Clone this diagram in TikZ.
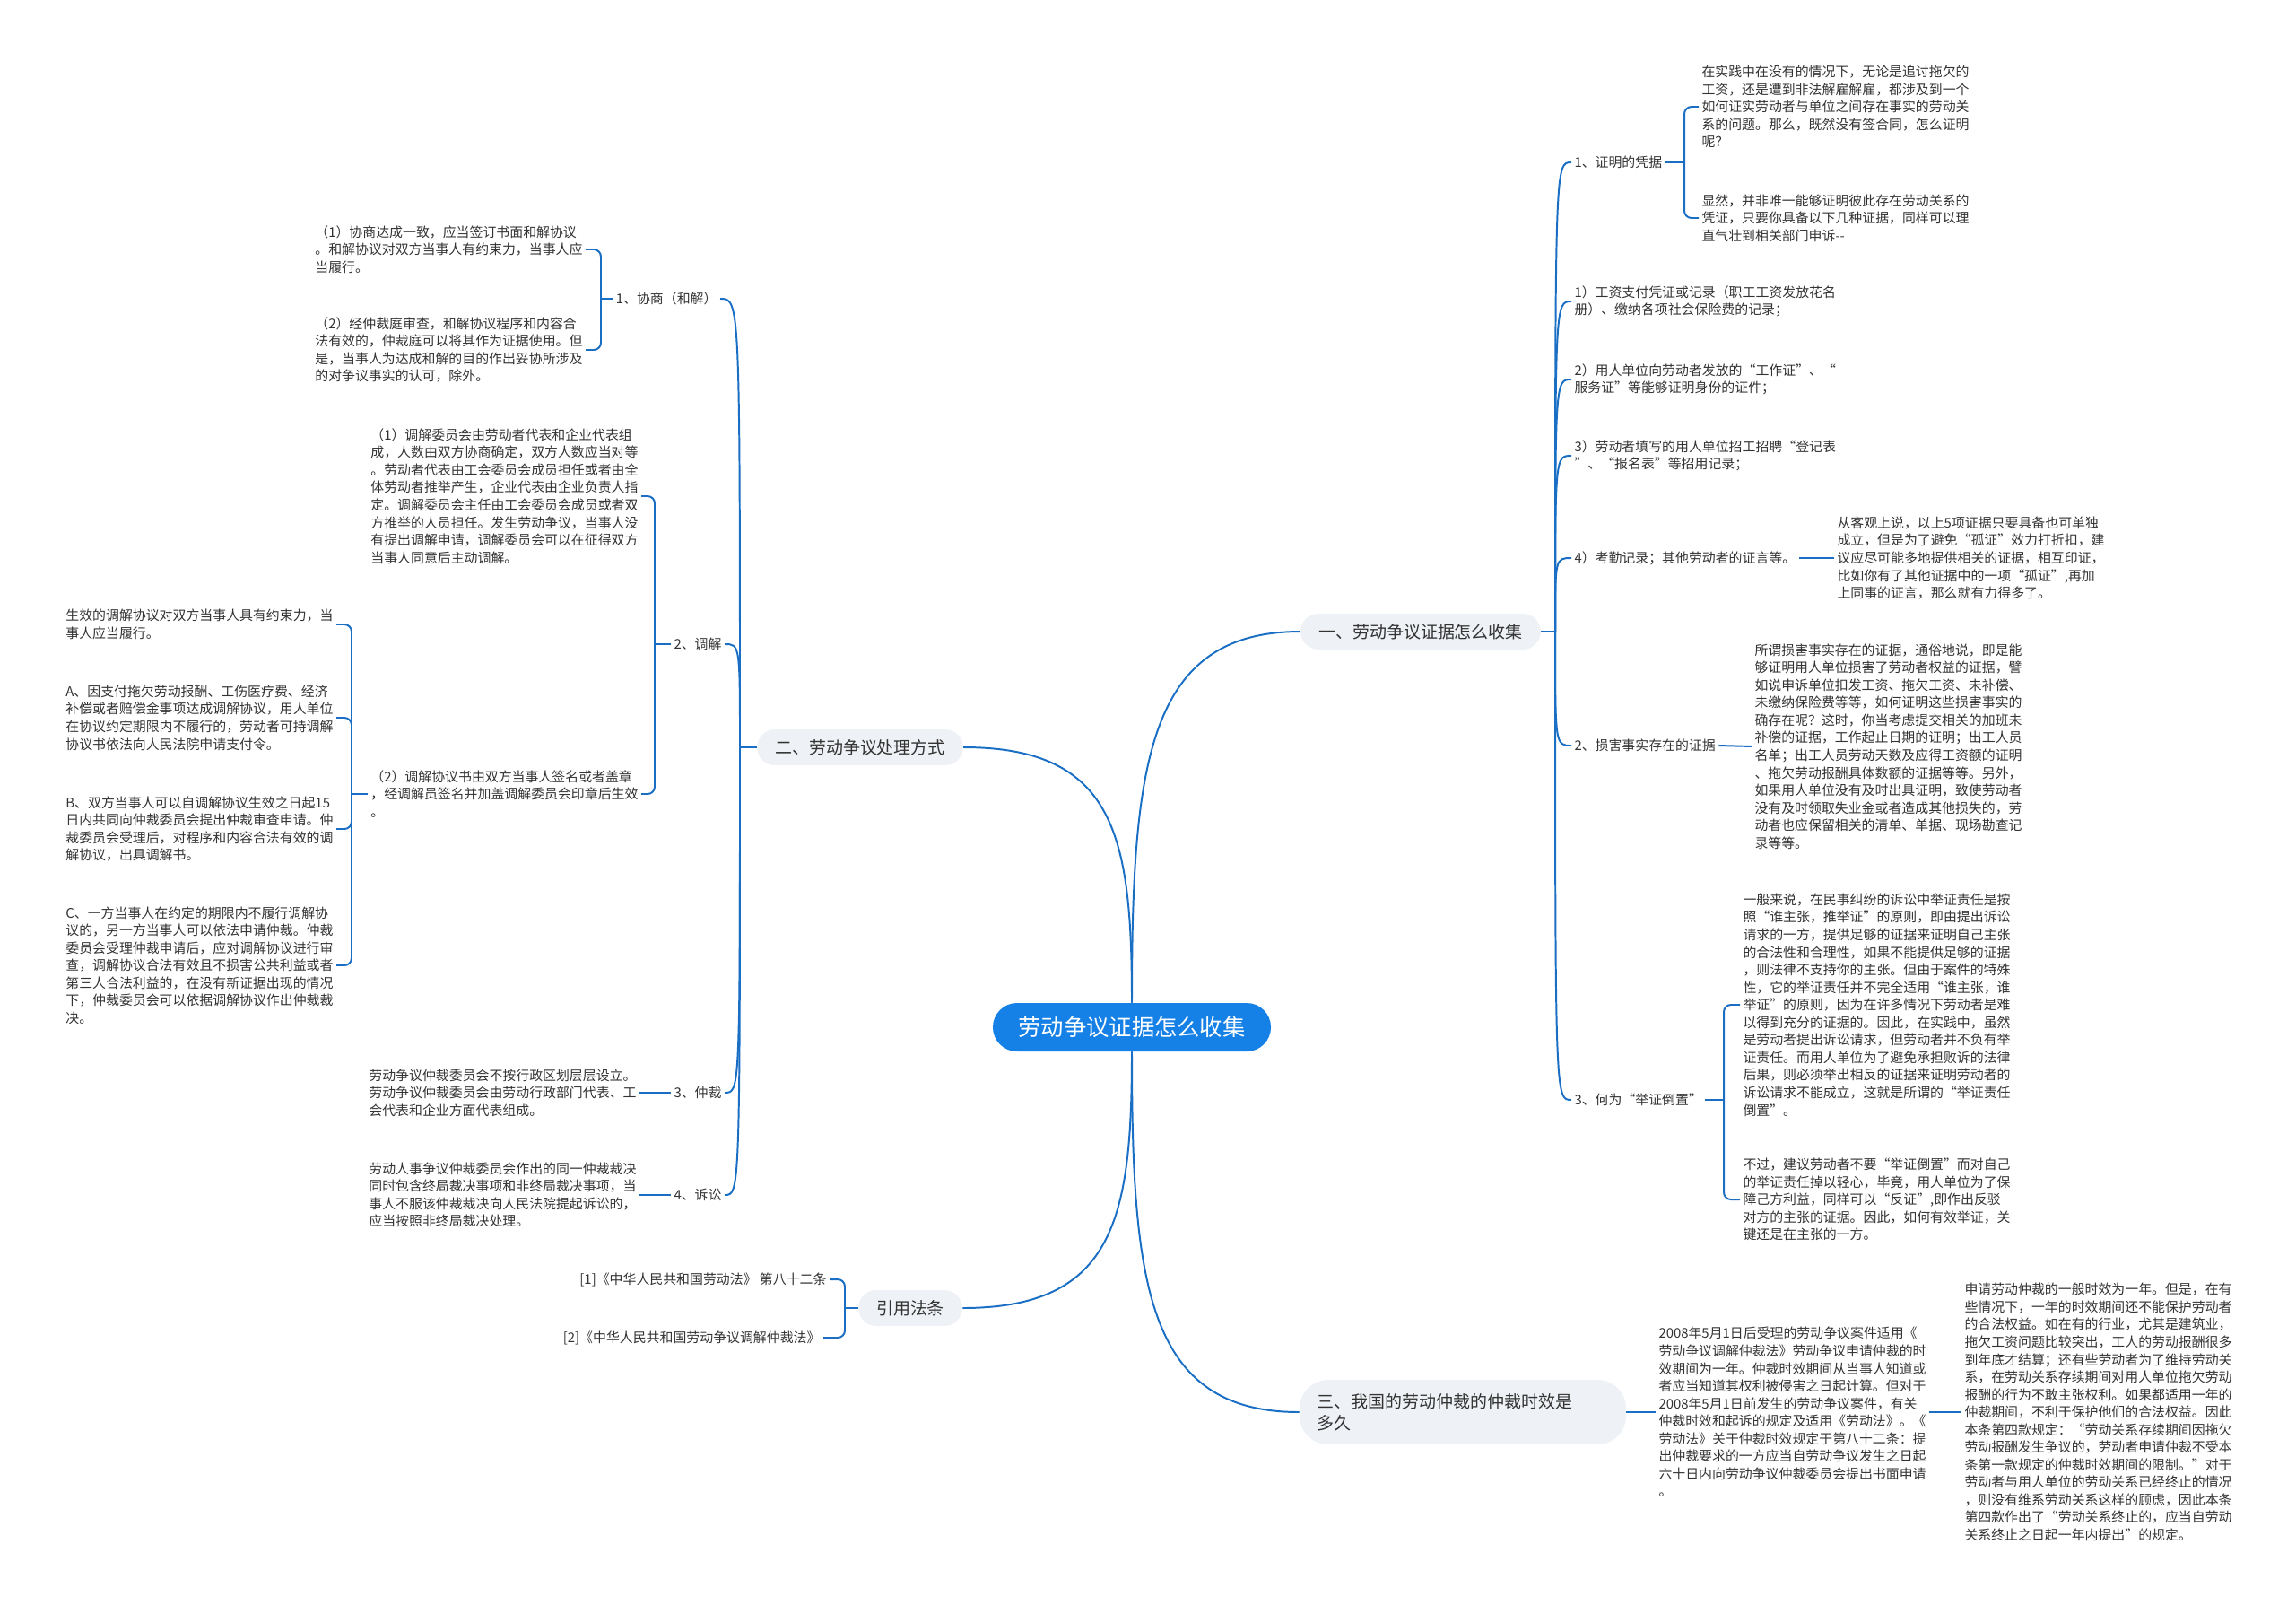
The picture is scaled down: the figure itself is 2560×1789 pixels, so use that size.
\documentclass[tikz,border=0pt]{standalone}
\usepackage{fontspec}
\setmainfont{Noto Sans CJK SC}
\usetikzlibrary{positioning, calc}
\definecolor{mmBlue}{HTML}{1A6FC4}
\definecolor{mmRoot}{HTML}{1580E6}
\definecolor{mmPill}{HTML}{EEF1F5}
\definecolor{mmInk}{HTML}{333333}
\newcommand{\tx}{\fontsize{10.6}{13.9}\selectfont}

\begin{document}
\begin{tikzpicture}[x=0.025cm, y=-0.025cm,
  root/.style={fill=mmRoot, text=white, rounded corners=0.675cm, minimum width=7.75cm, minimum height=1.35cm, font=\fontsize{18}{22}\selectfont},
  pill/.style={fill=mmPill, text=mmInk, rounded corners=0.5cm, minimum height=1cm, inner xsep=0.5cm, font=\fontsize{13.5}{17}\selectfont},
  txt/.style={text=mmInk, inner sep=0.08cm, align=left, font=\tx},
  link/.style={draw=mmBlue, line width=1.4pt},
  brk/.style={link, rounded corners=0.2cm}]
\useasboundingbox (0,0) rectangle (2560,1789);
\node[root] (root) at (1262,1145) {劳动争议证据怎么收集};
\node[pill] (b1) at (1584,704) {一、劳动争议证据怎么收集};
\node[pill] (b2) at (959,833) {二、劳动争议处理方式};
\node[pill] (b3) at (1015,1458) {引用法条};
\node[pill, minimum height=1.8cm, text width=8.1cm, align=left, rounded corners=0.8cm] (b4) at (1631,1574) {三、我国的劳动仲裁的仲裁时效是\\多久};
\draw[link] (root.north) .. controls +(0,-268) and +(-170,0) .. (b1.west);
\draw[link] (root.north) .. controls +(0,-185) and +(170,0) .. (b2.east);
\draw[link] (root.south) .. controls +(0,185) and +(170,0) .. (b3.east);
\draw[link] (root.south) .. controls +(0,260) and +(-170,0) .. (b4.west);
% right branch
\node[txt, anchor=west] (r1) at (1752,181) {1、证明的凭据};
\node[txt, anchor=west] (r1a) at (1894,119) {在实践中在没有的情况下，无论是追讨拖欠的\\工资，还是遭到非法解雇解雇，都涉及到一个\\如何证实劳动者与单位之间存在事实的劳动关\\系的问题。那么，既然没有签合同，怎么证明\\呢？};
\node[txt, anchor=west] (r1b) at (1894,243) {显然，并非唯一能够证明彼此存在劳动关系的\\凭证，只要你具备以下几种证据，同样可以理\\直气壮到相关部门申诉-\kern0pt-};
\node[txt, anchor=west] (r2) at (1752,336) {1）工资支付凭证或记录（职工工资发放花名\\册）、缴纳各项社会保险费的记录；};
\node[txt, anchor=west] (r3) at (1752,423) {2）用人单位向劳动者发放的“工作证”、“\\服务证”等能够证明身份的证件；};
\node[txt, anchor=west] (r4) at (1752,508) {3）劳动者填写的用人单位招工招聘“登记表\\”、“报名表”等招用记录；};
\node[txt, anchor=west] (r5) at (1752,622) {4）考勤记录；其他劳动者的证言等。};
\node[txt, anchor=west] (r5a) at (2045,622) {从客观上说，以上5项证据只要具备也可单独\\成立，但是为了避免“孤证”效力打折扣，建\\议应尽可能多地提供相关的证据，相互印证，\\比如你有了其他证据中的一项“孤证”,再加\\上同事的证言，那么就有力得多了。};
\node[txt, anchor=west] (r6) at (1752,831) {2、损害事实存在的证据};
\node[txt, anchor=west] (r6a) at (1953,832) {所谓损害事实存在的证据，通俗地说，即是能\\够证明用人单位损害了劳动者权益的证据，譬\\如说申诉单位扣发工资、拖欠工资、未补偿、\\未缴纳保险费等等，如何证明这些损害事实的\\确存在呢？这时，你当考虑提交相关的加班未\\补偿的证据，工作起止日期的证明；出工人员\\名单；出工人员劳动天数及应得工资额的证明\\、拖欠劳动报酬具体数额的证据等等。另外，\\如果用人单位没有及时出具证明，致使劳动者\\没有及时领取失业金或者造成其他损失的，劳\\动者也应保留相关的清单、单据、现场勘查记\\录等等。};
\node[txt, anchor=west] (r7) at (1752,1226) {3、何为“举证倒置”};
\node[txt, anchor=west] (r7a) at (1940,1120) {一般来说，在民事纠纷的诉讼中举证责任是按\\照“谁主张，推举证”的原则，即由提出诉讼\\请求的一方，提供足够的证据来证明自己主张\\的合法性和合理性，如果不能提供足够的证据\\，则法律不支持你的主张。但由于案件的特殊\\性，它的举证责任并不完全适用“谁主张，谁\\举证”的原则，因为在许多情况下劳动者是难\\以得到充分的证据的。因此，在实践中，虽然\\是劳动者提出诉讼请求，但劳动者并不负有举\\证责任。而用人单位为了避免承担败诉的法律\\后果，则必须举出相反的证据来证明劳动者的\\诉讼请求不能成立，这就是所谓的“举证责任\\倒置”。};
\node[txt, anchor=west] (r7b) at (1940,1337) {不过，建议劳动者不要“举证倒置”而对自己\\的举证责任掉以轻心，毕竟，用人单位为了保\\障己方利益，同样可以“反证”,即作出反驳\\对方的主张的证据。因此，如何有效举证，关\\键还是在主张的一方。};
\coordinate (j1) at (1734,704);
\draw[link] (b1.east) -- (j1);
\foreach \n in {r1,r2,r3,r4,r5,r6,r7}{\draw[link] (j1) .. controls (j1|-\n.west) .. (\n.west);}
\coordinate (k1) at (1878,181);
\draw[link] (r1.east) -- (k1);
\foreach \n in {r1a,r1b}{\draw[brk] (k1) |- (\n.west);}
\draw[link] (r5.east) -- (r5a.west);
\draw[link] (r6.east) -- (r6a.west);
\coordinate (k7) at (1922,1226);
\draw[link] (r7.east) -- (k7);
\foreach \n in {r7a,r7b}{\draw[brk] (k7) |- (\n.west);}
% left branch
\node[txt, anchor=east] (l1) at (803,333) {1、协商（和解）};
\node[txt, anchor=east] (l1a) at (653,278) {（1）协商达成一致，应当签订书面和解协议\\。和解协议对双方当事人有约束力，当事人应\\当履行。};
\node[txt, anchor=east] (l1b) at (653,390) {（2）经仲裁庭审查，和解协议程序和内容合\\法有效的，仲裁庭可以将其作为证据使用。但\\是，当事人为达成和解的目的作出妥协所涉及\\的对争议事实的认可，除外。};
\node[txt, anchor=east] (l2) at (808,718) {2、调解};
\node[txt, anchor=east] (l2a) at (715,553) {（1）调解委员会由劳动者代表和企业代表组\\成，人数由双方协商确定，双方人数应当对等\\。劳动者代表由工会委员会成员担任或者由全\\体劳动者推举产生，企业代表由企业负责人指\\定。调解委员会主任由工会委员会成员或者双\\方推举的人员担任。发生劳动争议，当事人没\\有提出调解申请，调解委员会可以在征得双方\\当事人同意后主动调解。};
\node[txt, anchor=east] (l2b) at (715,885) {（2）调解协议书由双方当事人签名或者盖章\\，经调解员签名并加盖调解委员会印章后生效\\。};
\node[txt, anchor=east] (l2c) at (375,696) {生效的调解协议对双方当事人具有约束力，当\\事人应当履行。};
\node[txt, anchor=east] (l2d) at (375,800) {A、因支付拖欠劳动报酬、工伤医疗费、经济\\补偿或者赔偿金事项达成调解协议，用人单位\\在协议约定期限内不履行的，劳动者可持调解\\协议书依法向人民法院申请支付令。};
\node[txt, anchor=east] (l2e) at (375,924) {B、双方当事人可以自调解协议生效之日起15\\日内共同向仲裁委员会提出仲裁审查申请。仲\\裁委员会受理后，对程序和内容合法有效的调\\解协议，出具调解书。};
\node[txt, anchor=east] (l2f) at (375,1076) {C、一方当事人在约定的期限内不履行调解协\\议的，另一方当事人可以依法申请仲裁。仲裁\\委员会受理仲裁申请后，应对调解协议进行审\\查，调解协议合法有效且不损害公共利益或者\\第三人合法利益的，在没有新证据出现的情况\\下，仲裁委员会可以依据调解协议作出仲裁裁\\决。};
\node[txt, anchor=east] (l3) at (808,1218) {3、仲裁};
\node[txt, anchor=east] (l3a) at (713,1218) {劳动争议仲裁委员会不按行政区划层层设立。\\劳动争议仲裁委员会由劳动行政部门代表、工\\会代表和企业方面代表组成。};
\node[txt, anchor=east] (l4) at (808,1332) {4、诉讼};
\node[txt, anchor=east] (l4a) at (713,1332) {劳动人事争议仲裁委员会作出的同一仲裁裁决\\同时包含终局裁决事项和非终局裁决事项，当\\事人不服该仲裁裁决向人民法院提起诉讼的，\\应当按照非终局裁决处理。};
\coordinate (j2) at (825,833);
\draw[link] (b2.west) -- (j2);
\foreach \n in {l1,l2,l3,l4}{\draw[link] (j2) .. controls (j2|-\n.east) .. (\n.east);}
\coordinate (k2) at (670,333);
\draw[link] (l1.west) -- (k2);
\foreach \n in {l1a,l1b}{\draw[brk] (k2) |- (\n.east);}
\coordinate (k3) at (730,718);
\draw[link] (l2.west) -- (k3);
\foreach \n in {l2a,l2b}{\draw[brk] (k3) |- (\n.east);}
\coordinate (k4) at (392,885);
\draw[link] (l2b.west) -- (k4);
\foreach \n in {l2c,l2d,l2e,l2f}{\draw[brk] (k4) |- (\n.east);}
\draw[link] (l3.west) -- (l3a.east);
\draw[link] (l4.west) -- (l4a.east);
% laws
\node[txt, anchor=east] (b3a) at (925,1426) {[1]《中华人民共和国劳动法》 第八十二条};
\node[txt, anchor=east] (b3b) at (918,1491) {[2]《中华人民共和国劳动争议调解仲裁法》};
\coordinate (k5) at (942,1458);
\draw[link] (b3.west) -- (k5);
\foreach \n in {b3a,b3b}{\draw[brk] (k5) |- (\n.east);}
% time limit
\node[txt, anchor=west] (b4a) at (1846,1574) {2008年5月1日后受理的劳动争议案件适用《\\劳动争议调解仲裁法》劳动争议申请仲裁的时\\效期间为一年。仲裁时效期间从当事人知道或\\者应当知道其权利被侵害之日起计算。但对于\\2008年5月1日前发生的劳动争议案件，有关\\仲裁时效和起诉的规定及适用《劳动法》。《\\劳动法》关于仲裁时效规定于第八十二条：提\\出仲裁要求的一方应当自劳动争议发生之日起\\六十日内向劳动争议仲裁委员会提出书面申请\\。};
\node[txt, anchor=west] (b4b) at (2187,1574) {申请劳动仲裁的一般时效为一年。但是，在有\\些情况下，一年的时效期间还不能保护劳动者\\的合法权益。如在有的行业，尤其是建筑业，\\拖欠工资问题比较突出，工人的劳动报酬很多\\到年底才结算；还有些劳动者为了维持劳动关\\系，在劳动关系存续期间对用人单位拖欠劳动\\报酬的行为不敢主张权利。如果都适用一年的\\仲裁期间，不利于保护他们的合法权益。因此\\本条第四款规定：“劳动关系存续期间因拖欠\\劳动报酬发生争议的，劳动者申请仲裁不受本\\条第一款规定的仲裁时效期间的限制。”对于\\劳动者与用人单位的劳动关系已经终止的情况\\，则没有维系劳动关系这样的顾虑，因此本条\\第四款作出了“劳动关系终止的，应当自劳动\\关系终止之日起一年内提出”的规定。};
\draw[link] (b4.east) -- (b4a.west);
\draw[link] (b4a.east) -- (b4b.west);
\end{tikzpicture}
\end{document}
